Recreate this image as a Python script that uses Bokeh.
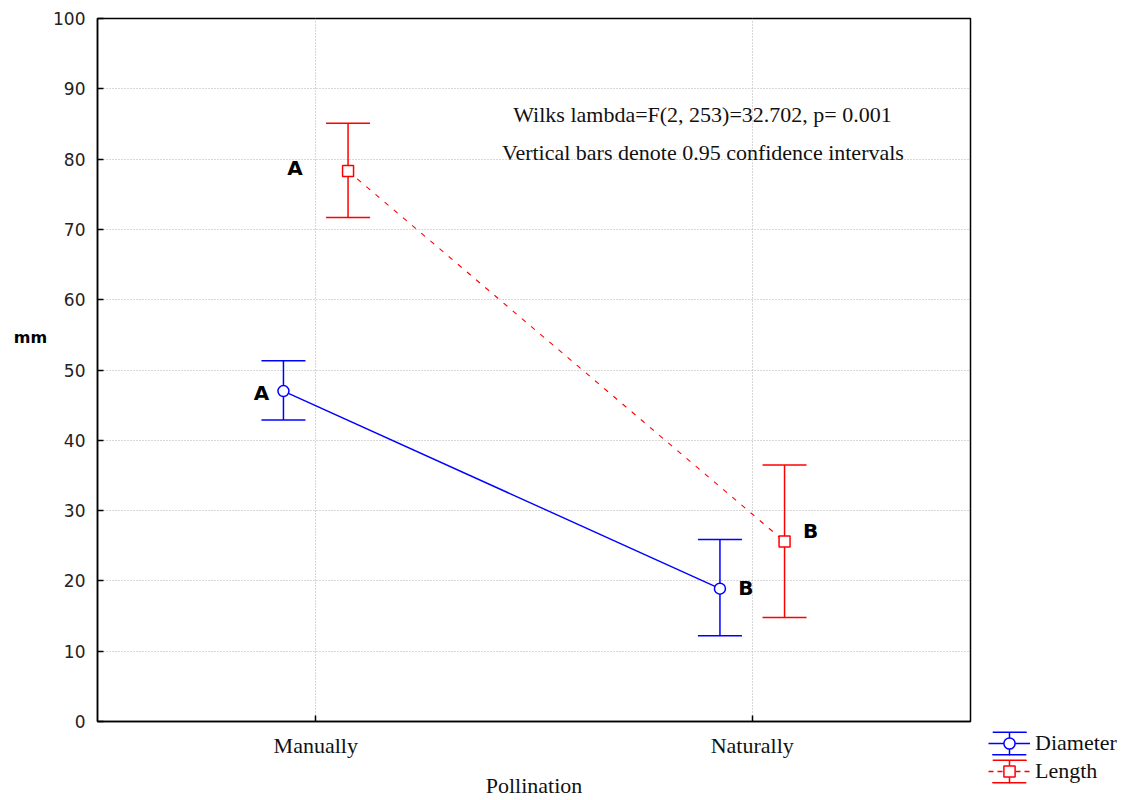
from bokeh.plotting import figure
from bokeh.layouts import row, column
from bokeh.models import (ColumnDataSource, Whisker, TeeHead, Label, Legend, LegendItem,
                          FixedTicker, Range1d)
from bokeh.core.properties import value
from bokeh.embed import file_html
from bokeh.resources import INLINE

# ---- data ----
pollination = ["Manually", "Naturally"]
diameter_mean = [47.0, 18.9]
diameter_lower = [42.9, 12.2]
diameter_upper = [51.3, 25.9]
length_mean = [78.3, 25.6]
length_lower = [71.7, 14.8]
length_upper = [85.1, 36.5]
diameter_letters = ["A", "B"]
length_letters = ["A", "B"]
y_ticks = list(range(0, 101, 10))
note1 = "Wilks lambda=F(2, 253)=32.702, p= 0.001"
note2 = "Vertical bars denote 0.95 confidence intervals"

# ---- style ----
BLUE = "#0000ff"
RED = "#ff0000"
SERIF = "Liberation Serif"
SANS = "DejaVu Sans"
dodge = 0.074

idx = list(range(len(pollination)))
dsrc = ColumnDataSource(dict(
    x=[i - dodge for i in idx], m=diameter_mean, lo=diameter_lower, up=diameter_upper,
    lab=diameter_letters, dx=[-22, 26], dy=[2, -1]))
lsrc = ColumnDataSource(dict(
    x=[i + dodge for i in idx], m=length_mean, lo=length_lower, up=length_upper,
    lab=length_letters, dx=[-53, 26], dy=[-3, -11]))

p = figure(width=925, height=800, output_backend="svg", toolbar_location=None,
           x_range=Range1d(-0.5, 1.5), y_range=Range1d(0, 100),
           min_border_left=47, min_border_right=5, min_border_top=18, min_border_bottom=78,
           background_fill_color="white", border_fill_color="white")

p.outline_line_color = "black"
p.outline_line_width = 1.5
p.outline_line_alpha = 1

# axes
p.xaxis.ticker = FixedTicker(ticks=idx)
p.xaxis.major_label_overrides = {i: c for i, c in zip(idx, pollination)}
p.yaxis.ticker = FixedTicker(ticks=y_ticks)
for ax in (p.xaxis[0], p.yaxis[0]):
    ax.axis_line_color = "black"
    ax.axis_line_width = 1.5
    ax.major_tick_in = 6
    ax.major_tick_out = 0
    ax.major_tick_line_color = "black"
    ax.major_tick_line_width = 1.5
    ax.minor_tick_line_color = None
p.xaxis.major_label_text_font = SERIF
p.xaxis.major_label_text_font_size = "22px"
p.xaxis.major_label_text_color = "#111111"
p.xaxis.major_label_standoff = 11
p.xaxis.axis_label = "Pollination"
p.xaxis.axis_label_text_font = SERIF
p.xaxis.axis_label_text_font_style = "normal"
p.xaxis.axis_label_text_font_size = "22px"
p.xaxis.axis_label_text_color = "#111111"
p.xaxis.axis_label_standoff = 12

p.yaxis.major_label_text_font = SANS
p.yaxis.major_label_text_font_size = "17px"
p.yaxis.major_label_text_color = "#222222"
p.yaxis.major_label_standoff = 12

# grid
p.xgrid.ticker = FixedTicker(ticks=idx)
p.ygrid.ticker = FixedTicker(ticks=y_ticks)
for g in (p.xgrid[0], p.ygrid[0]):
    g.grid_line_color = "#b0b0b0"
    g.grid_line_dash = "1 2"
    g.grid_line_width = 1

# lines
p.line("x", "m", source=dsrc, line_color=BLUE, line_width=1.4)
p.line("x", "m", source=lsrc, line_color=RED, line_width=1.1, line_dash="5 7")

# error bars
for src, col in ((dsrc, BLUE), (lsrc, RED)):
    w = Whisker(base="x", upper="up", lower="lo", source=src, line_color=col, line_width=1.5,
                upper_head=TeeHead(size=44, line_color=col, line_width=1.5),
                lower_head=TeeHead(size=44, line_color=col, line_width=1.5))
    p.add_layout(w)

# markers
p.scatter("x", "m", source=dsrc, marker="circle", size=11, line_color=BLUE,
          fill_color="white", line_width=1.5)
p.scatter("x", "m", source=lsrc, marker="square", size=11, line_color=RED,
          fill_color="white", line_width=1.5)

# letters
for src in (dsrc, lsrc):
    p.text("x", "m", text="lab", source=src, x_offset="dx", y_offset="dy",
           text_font=value(SANS), text_font_style="bold", text_font_size="20px",
           text_align="center", text_baseline="middle", text_color="black")

# notes
p.add_layout(Label(x=0.886, y=86.4, text=note1, text_font=SERIF, text_font_size="22px",
                   text_align="center", text_baseline="middle", text_color="#111111"))
p.add_layout(Label(x=0.887, y=81.0, text=note2, text_font=SERIF, text_font_size="22px",
                   text_align="center", text_baseline="middle", text_color="#111111"))


def blank(w, h):
    f = figure(width=w, height=h, output_backend="svg", toolbar_location=None,
               x_range=Range1d(0, w), y_range=Range1d(0, h), min_border=0,
               x_axis_location=None, y_axis_location=None, outline_line_color=None,
               background_fill_color="white", border_fill_color="white")
    f.grid.visible = False
    return f


# left strip: horizontal y-axis title "mm"
lf = blank(50, 800)
lf.add_layout(Label(x=30, y=800 - 337, text="mm", text_font=SANS, text_font_style="bold",
                    text_font_size="16px", text_align="center", text_baseline="middle",
                    text_color="black"))

# right strip: legend below-right of the plot (legend sample glyphs sit off-range)
side = blank(154, 800)
GW, GH = 42, 28
caps_dash = "%d %d" % (round(GW * 0.8), round(GH * 0.8))

def legend_entry(color, marker, dash):
    r_caps = side.rect([-50], [-50], width=10, height=10, fill_color=None,
                       line_color=color, line_width=1.5, line_dash=caps_dash)
    r_vert = side.ellipse([-50], [-50], width=0.001, height=30, fill_color=None,
                          line_color=color, line_width=1.5)
    r_line = side.line([-60, -40], [-50, -50], line_color=color, line_width=1.5, line_dash=dash)
    r_mark = side.scatter([-50], [-50], marker=marker, size=10, line_color=color,
                          fill_color="white", line_width=1.5)
    return [r_caps, r_vert, r_line, r_mark]

legend = Legend(items=[LegendItem(label="Diameter", renderers=legend_entry(BLUE, "circle", "solid")),
                       LegendItem(label="Length", renderers=legend_entry(RED, "square", "5 4"))],
                location=(13, 15), orientation="vertical",
                label_text_font=SERIF, label_text_font_size="22px", label_text_color="#111111",
                glyph_width=GW, glyph_height=GH, label_height=GH, spacing=0,
                padding=2, margin=0, border_line_color=None, background_fill_alpha=0,
                label_standoff=5)
side.add_layout(legend, "center")

layout = row(column(lf), p, column(side))
open("out.html", "w").write(file_html(layout, INLINE))
